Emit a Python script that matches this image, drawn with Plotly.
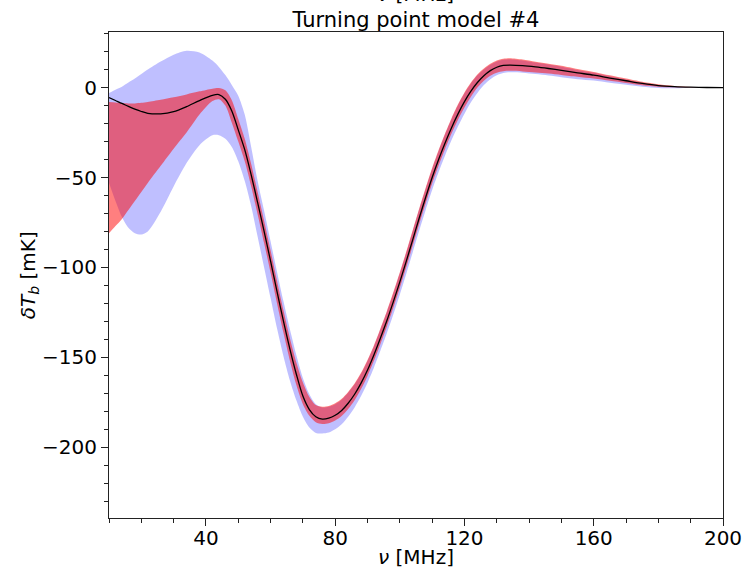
import plotly.graph_objects as go

# frequency grid [MHz]
nu = [10, 12, 14, 16, 18, 20, 22, 26, 30, 34, 38, 42, 44, 46, 48, 50, 52, 54, 56, 58,
      60, 62, 64, 66, 68, 70, 72, 74, 76, 78, 80, 82, 84, 86, 88, 90, 92, 94, 96, 98,
      100, 102, 104, 106, 108, 110, 112, 114, 116, 118, 120, 122, 124, 126, 128, 130,
      132, 134, 138, 142, 146, 150, 155, 160, 165, 170, 175, 180, 185, 190, 195, 200]

# model #4 signal [mK]
signal = [-5.6, -7.2, -8.8, -10.5, -12.0, -13.3, -14.3, -14.6, -13.4, -10.6, -7.2, -4.3, -3.9,
          -6.5, -13, -23.5, -34.5, -48.5, -64, -80, -96.5, -113.5, -130, -145.5, -159.5,
          -171.5, -179, -183, -184.3, -183.8, -182.2, -179.5, -175.5, -170.5, -164.3, -157,
          -148.5, -139.2, -129.5, -119, -108, -96.5, -84.5, -72.5, -61, -50, -40, -30.8,
          -22.3, -14.6, -7.8, -2, 2.8, 6.6, 9.4, 11.3, 12.3, 12.5, 12.2, 11.5, 10.6, 9.6,
          8.2, 6.9, 5.3, 3.8, 2.3, 1.1, 0.5, 0.2, 0.05, 0]

# wide (blue) band
blue_lo = [-53, -63, -72, -78, -81, -81.7, -80, -69, -55, -42, -32, -26.5, -26.5, -28.5,
           -33, -41, -52, -66, -83, -100, -117, -134, -149.5, -163, -174, -183, -189,
           -192, -192.3, -191.8, -190, -187.2, -183, -177.8, -171.5, -164.1, -155.6,
           -146.2, -136.5, -126, -115, -103.5, -91.5, -79.5, -68, -57, -47, -37.8, -29.2,
           -21.5, -14.5, -8.2, -3, 1.4, 4.7, 6.9, 8.1, 8.5, 8.3, 7.5, 6.7, 5.8, 4.7, 3.9,
           2.7, 1.6, 0.5, -0.2, -0.4, -0.3, -0.1, 0]
blue_hi = [-3, -1.2, 0.5, 2.8, 5, 7.5, 10, 14.5, 18.3, 20.5, 19.5, 15, 11.5, 7, 1.5, -4.5,
           -15, -33, -52, -68.5, -85.5, -102.5, -119, -134.5, -149, -161.5, -170.5, -176,
           -177.8, -177.4, -176, -173.5, -169.7, -165, -159.1, -152, -143.7, -134.4,
           -124.7, -114.2, -103.2, -91.7, -79.7, -67.7, -56.2, -45.2, -35.2, -26, -17.5,
           -9.8, -3.2, 2.3, 6.8, 10.1, 12.7, 14.5, 15.5, 15.8, 15.1, 13.9, 12.8, 11.6, 9.8,
           8.2, 6.3, 4.5, 2.7, 1.3, 0.5, 0.1, 0, 0]

# narrow (red) band
red_lo = [-81, -77, -73, -68, -63, -58, -53, -43.5, -34, -25, -15, -7.5, -6.5, -10, -19.5,
          -30, -41, -55, -70.5, -86.5, -103, -120, -136.5, -152, -165.5, -176, -182.5,
          -186, -187, -186.6, -185.1, -182.6, -178.7, -173.8, -167.6, -160.3, -151.8,
          -142.5, -132.8, -122.3, -111.3, -99.8, -87.8, -75.8, -64.3, -53.3, -43.3, -34.1,
          -25.6, -17.9, -11.1, -5.1, 0, 3.8, 6.6, 8.3, 9.1, 9.3, 9, 8.4, 7.8, 7, 6, 5, 3.8,
          2.6, 1.3, 0.5, 0.15, 0.05, 0, 0]
red_hi = [-8, -8.3, -8.6, -8.8, -8.8, -8.5, -8.0, -6.8, -5.4, -3.8, -2.1, -0.6, -0.2, -1.5,
          -7, -17.5, -28.5, -42.5, -58, -74, -90.5, -107.5, -124, -139.5, -153, -164, -172,
          -176.5, -177.5, -177, -175.5, -173, -169.2, -164.5, -158.6, -151.5, -143.2,
          -133.9, -124.2, -113.7, -102.7, -91.2, -79.2, -67.2, -55.7, -44.7, -34.7, -25.5,
          -17, -9.3, -2.7, 2.8, 7.3, 10.6, 13.2, 15, 16, 16.3, 15.6, 14.4, 13.3, 12.1,
          10.3, 8.7, 6.8, 5, 3.2, 1.8, 0.9, 0.35, 0.1, 0]

font = "DejaVu Sans"
fs = 20
smooth = dict(shape="spline", smoothing=0.8)

fig = go.Figure()
fig.add_trace(go.Scatter(x=nu, y=blue_lo, mode="lines", line=dict(width=0, **smooth),
                         showlegend=False))
fig.add_trace(go.Scatter(x=nu, y=blue_hi, mode="lines", line=dict(width=0, **smooth),
                         fill="tonexty", fillcolor="rgba(0,0,255,0.25)", showlegend=False))
fig.add_trace(go.Scatter(x=nu, y=red_lo, mode="lines", line=dict(width=0, **smooth),
                         showlegend=False))
fig.add_trace(go.Scatter(x=nu, y=red_hi, mode="lines", line=dict(width=0, **smooth),
                         fill="tonexty", fillcolor="rgba(255,0,0,0.5)", showlegend=False))
fig.add_trace(go.Scatter(x=nu, y=signal, mode="lines",
                         line=dict(color="black", width=1.3, **smooth), showlegend=False))

axis_common = dict(
    showline=True, linecolor="#222", linewidth=1.2, mirror=True, automargin=False,
    showgrid=False, zeroline=False, ticks="outside", ticklen=7, tickwidth=1.2,
    tickcolor="#222", tickfont=dict(family=font, size=fs, color="black"),
)
fig.update_xaxes(range=[10, 200], tick0=0, dtick=40, ticklabelstandoff=-5,
                 minor=dict(dtick=10, tick0=0, ticks="outside", ticklen=4, tickcolor="#222"),
                 **axis_common)
fig.update_yaxes(range=[-239.3, 30.9], tick0=0, dtick=50,
                 minor=dict(dtick=10, tick0=0, ticks="outside", ticklen=4, tickcolor="#222"),
                 **axis_common)

fig.update_layout(
    width=748, height=570, autosize=False,
    margin=dict(l=109, r=25, t=32, b=52),
    plot_bgcolor="white", paper_bgcolor="white",
    font=dict(family=font, size=fs, color="black"),
    title=dict(text="Turning point model #4", x=0.5, xref="paper", y=1 - 27 / 570,
               yref="container", yanchor="bottom", xanchor="center",
               font=dict(family=font, size=21, color="black")),
    annotations=[
        dict(text="<i>ν</i> [MHz]", xref="paper", yref="paper", x=0.5, y=1.049,
             showarrow=False, xanchor="center", yanchor="bottom",
             font=dict(family=font, size=fs, color="black")),
        dict(text="<i>ν</i> [MHz]", xref="paper", yref="paper", x=0.5, y=-0.08,
             showarrow=False, xanchor="center", yanchor="middle",
             font=dict(family=font, size=fs, color="black")),
        dict(text="<i>δT</i><sub><i>b</i></sub> [mK]", xref="paper", yref="paper",
             x=-0.13, y=0.5, textangle=-90, showarrow=False,
             xanchor="center", yanchor="middle",
             font=dict(family=font, size=fs, color="black")),
    ],
)

# drop the browser's default 8px body margin so the figure sits at the page origin
fig.write_html("out.html", config={"displayModeBar": False},
               post_script="document.body.style.margin='0';")
